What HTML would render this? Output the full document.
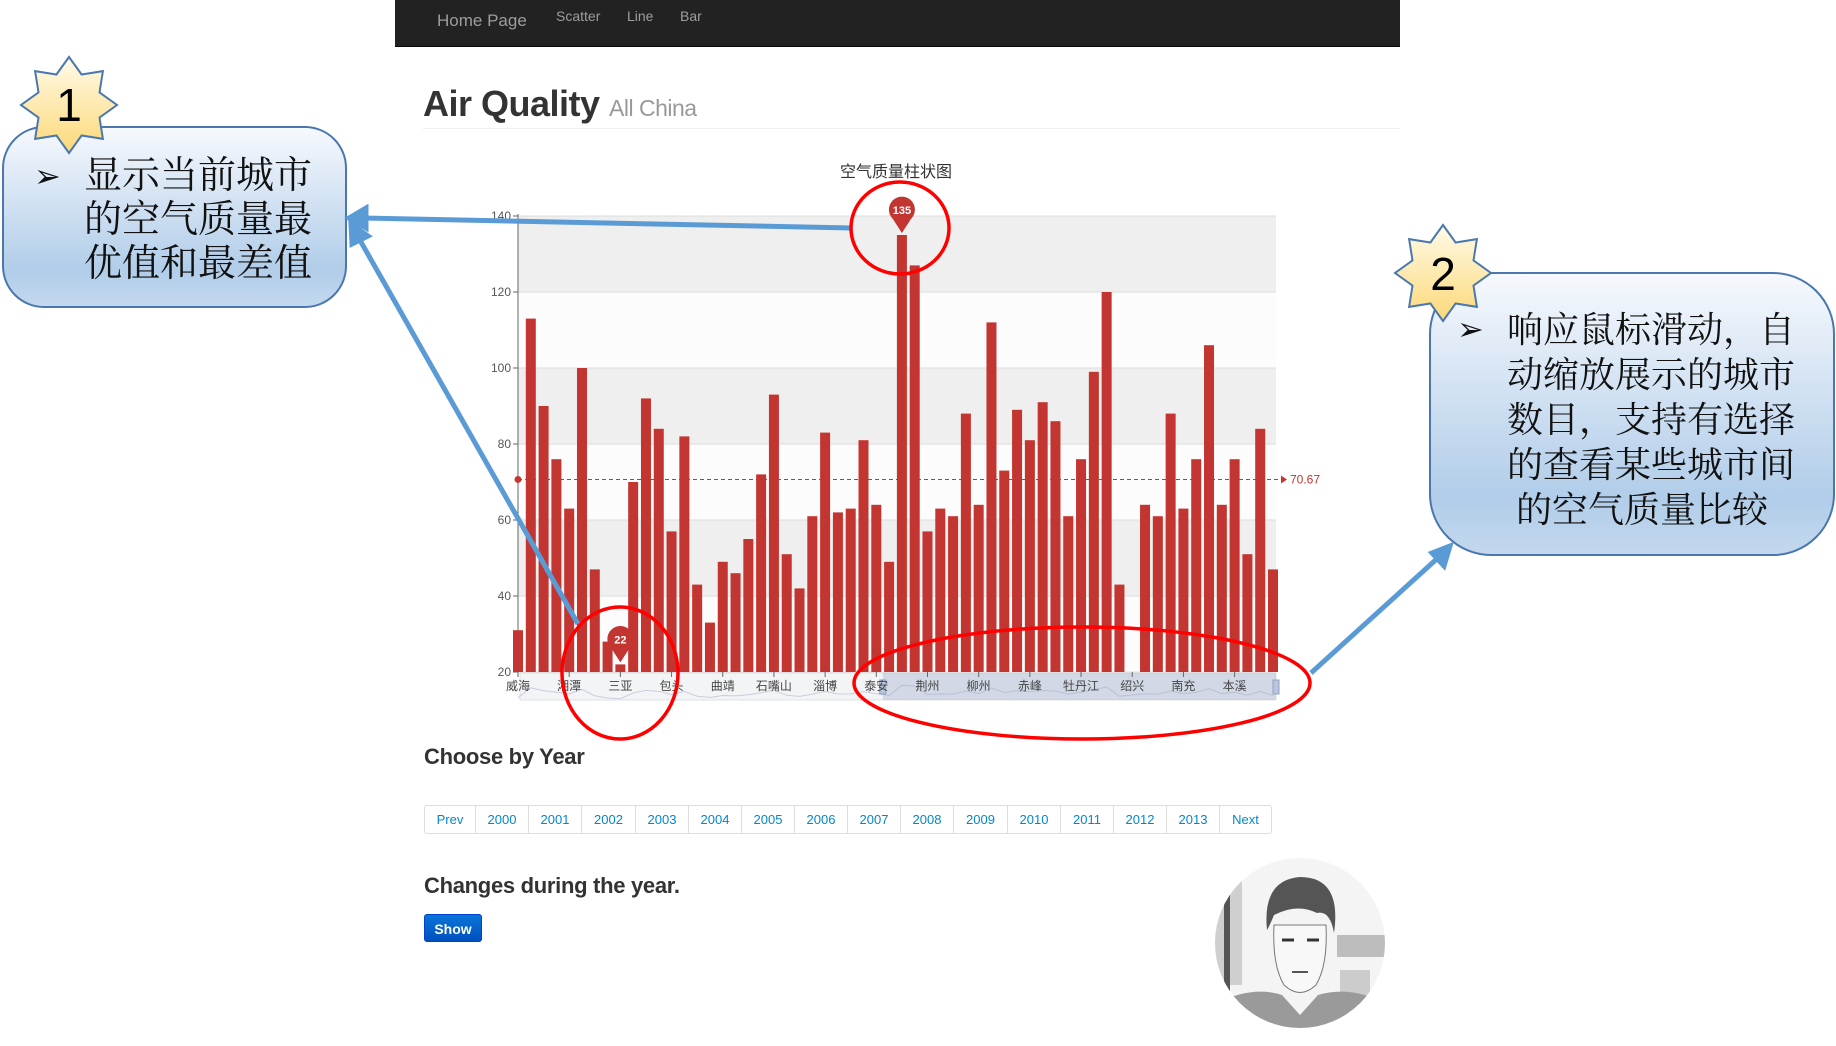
<!DOCTYPE html>
<html><head><meta charset="utf-8">
<style>
html,body{margin:0;padding:0;width:1836px;height:1046px;overflow:hidden;background:#fff;font-family:"Liberation Sans","Noto Sans CJK SC",sans-serif;}
.abs{position:absolute;}
#navbar{left:395px;top:0;width:1005px;height:46px;background:#222;border-bottom:1px solid #080808;}
.nav{position:absolute;color:#9d9d9d;font-size:14px;}
h1{position:absolute;left:423px;top:83px;margin:0;font-size:36px;font-weight:bold;color:#333;letter-spacing:-0.5px;}
h1 small{font-size:23px;font-weight:normal;color:#999;}
.h3{position:absolute;left:424px;font-size:22px;font-weight:bold;color:#333;letter-spacing:-0.3px;}
#pager{left:424px;top:805px;height:27px;border:1px solid #ddd;border-radius:3px;display:flex;}
#pager div{height:27px;line-height:27px;text-align:center;color:#0088cc;font-size:13px;border-right:1px solid #ddd;box-sizing:border-box;}
#show{left:424px;top:914px;width:58px;height:28px;border-radius:3px;background:linear-gradient(#0a74d8,#0050c0);color:#fff;font-size:14px;font-weight:bold;text-align:center;line-height:28px;border:1px solid #04c;box-sizing:border-box;}
.callout{position:absolute;border:2px solid #4a78ae;background:linear-gradient(#f6f9fd 0%,#cfe0f2 45%,#b1cde9 80%,#c3d8ee 100%);box-sizing:border-box;}
.ct{position:absolute;font-family:"Liberation Serif","Noto Serif CJK SC",serif;color:#111;white-space:nowrap;}
</style></head><body>
<div id="navbar" class="abs">
  <span class="nav" style="left:42px;top:11px;font-size:17px;">Home Page</span>
  <span class="nav" style="left:161px;top:8px;">Scatter</span>
  <span class="nav" style="left:232px;top:8px;">Line</span>
  <span class="nav" style="left:285px;top:8px;">Bar</span>
</div>
<h1>Air Quality <small>All China</small></h1>
<div class="abs" style="left:423px;top:128px;width:977px;height:1px;background:#eee;"></div>

<svg class="abs" style="left:0;top:0" width="1836" height="1046" id="chart"></svg>

<div class="h3" style="top:744px;">Choose by Year</div>
<div id="pager" class="abs">
  <div style="width:51px">Prev</div>
  <div style="width:53px">2000</div>
  <div style="width:53px">2001</div>
  <div style="width:54px">2002</div>
  <div style="width:53px">2003</div>
  <div style="width:53px">2004</div>
  <div style="width:53px">2005</div>
  <div style="width:53px">2006</div>
  <div style="width:53px">2007</div>
  <div style="width:53px">2008</div>
  <div style="width:54px">2009</div>
  <div style="width:53px">2010</div>
  <div style="width:53px">2011</div>
  <div style="width:53px">2012</div>
  <div style="width:53px">2013</div>
  <div style="width:51px;border-right:none">Next</div>
</div>
<div class="h3" style="top:873px;">Changes during the year.</div>
<div id="show" class="abs">Show</div>

<svg class="abs" style="left:1212px;top:855px" width="176" height="176">
  <defs><clipPath id="pc"><circle cx="88" cy="88" r="85"/></clipPath></defs>
  <g clip-path="url(#pc)">
    <rect width="176" height="176" fill="#f4f4f4"/>
    <rect x="0" y="20" width="30" height="110" fill="#cfcfcf"/>
    <rect x="12" y="30" width="6" height="110" fill="#555"/>
    <rect x="125" y="80" width="50" height="22" fill="#bdbdbd"/>
    <rect x="128" y="115" width="30" height="30" fill="#ccc"/>
    <path d="M0 150 Q40 130 70 140 L88 160 L106 140 Q140 130 176 150 L176 176 L0 176Z" fill="#9a9a9a"/>
    <path d="M62 70 Q60 110 72 130 Q88 145 104 130 Q116 110 114 70Z" fill="#f8f8f8" stroke="#777"/>
    <path d="M55 75 Q50 25 88 22 Q130 22 122 78 Q118 55 105 58 Q85 48 62 60 Q58 70 55 75Z" fill="#555"/>
    <path d="M70 85 h12 M95 85 h12" stroke="#333" stroke-width="3"/>
    <path d="M80 117 h16" stroke="#555" stroke-width="2"/>
  </g>
</svg>

<div class="callout" style="left:2px;top:126px;width:345px;height:182px;border-radius:42px;">
  <div class="ct" style="left:30px;top:30px;font-size:32px;line-height:36px;">➢</div>
  <div class="ct" style="left:80px;top:26px;font-size:38px;line-height:44px;">显示当前城市<br>的空气质量最<br>优值和最差值</div>
</div>
<div class="callout" style="left:1429px;top:272px;width:406px;height:284px;border-radius:62px;">
  <div class="ct" style="left:26px;top:37px;font-size:32px;line-height:36px;">➢</div>
  <div class="ct" style="left:76px;top:34px;font-size:36px;line-height:45px;">响应鼠标滑动，自<br>动缩放展示的城市<br>数目，支持有选择<br>的查看某些城市间<br>&nbsp;的空气质量比较</div>
</div>

<svg class="abs" style="left:0;top:0;pointer-events:none" width="1836" height="1046" id="overlay">
  <defs>
    <linearGradient id="sg" x1="0" y1="0" x2="0" y2="1"><stop offset="0" stop-color="#fffbe8"/><stop offset="1" stop-color="#fcd877"/></linearGradient>
  </defs>
  <g id="stars"></g>
  <text x="69" y="121" font-size="46" text-anchor="middle" font-family="Liberation Sans,sans-serif" fill="#000">1</text>
  <text x="1443" y="290" font-size="46" text-anchor="middle" font-family="Liberation Sans,sans-serif" fill="#000">2</text>
  <g stroke="#5b9bd5" stroke-width="5" fill="#5b9bd5">
    <line x1="852" y1="228" x2="362" y2="218"/>
    <polygon points="349,218 366,208 366,228"/>
    <line x1="578" y1="624" x2="357" y2="235"/>
    <polygon points="351,224 352,244 368,236"/>
    <line x1="1311" y1="673" x2="1440" y2="556"/>
    <polygon points="1450,546 1432,553 1444,566"/>
  </g>
  <g fill="none" stroke="#f00" stroke-width="3.5">
    <ellipse cx="900" cy="228" rx="49" ry="46"/>
    <ellipse cx="620" cy="673" rx="58" ry="66"/>
    <ellipse cx="1082" cy="683" rx="228" ry="56"/>
  </g>
</svg>

<script>
const categories = ["威海","烟台","青岛","日照","湘潭","株洲","长沙","岳阳","三亚","海口","湛江","北海","包头","呼和浩特","鄂尔多斯","大同","曲靖","昆明","玉溪","大理","石嘴山","银川","吴忠","兰州","淄博","济南","潍坊","临沂","泰安","聊城","德州","武汉","荆州","宜昌","襄阳","南宁","柳州","桂林","贵阳","遵义","赤峰","通辽","哈尔滨","齐齐哈尔","牡丹江","大庆","杭州","宁波","绍兴","金华","成都","绵阳","南充","宜宾","沈阳","大连","本溪","鞍山","抚顺","丹东"];
const values = [31,113,90,76,63,100,47,28,22,70,92,84,57,82,43,33,49,46,55,72,93,51,42,61,83,62,63,81,64,49,135,127,57,63,61,88,64,112,73,89,81,91,86,61,76,99,120,43,null,64,61,88,63,76,106,64,76,51,84,47];
const yTicks = [20,40,60,80,100,120,140];
const averageValue = 70.67;
const labelEvery = 4;
const zoomStartIndex = 28.5;

const NS="http://www.w3.org/2000/svg";
const svg=document.getElementById('chart');
const X0=518, X1=1273, YB=672, YT=216, VMIN=20, VMAX=140;
function xPos(i){return X0+i*(X1-X0)/(categories.length-1);}
function yPos(v){return YB-(v-VMIN)*(YB-YT)/(VMAX-VMIN);}
function mk(tag,attrs,parent){const e=document.createElementNS(NS,tag);for(const k in attrs)e.setAttribute(k,attrs[k]);(parent||svg).appendChild(e);return e;}

let t=mk('text',{x:896,y:177,'font-size':16,'text-anchor':'middle',fill:'#333','font-family':'Liberation Sans, Noto Sans CJK SC, sans-serif'});
t.textContent='空气质量柱状图';



for(let k=0;k<yTicks.length-1;k++){
  const r=mk('rect',{x:X0,y:yPos(yTicks[k+1]),width:X1-X0+3,height:yPos(yTicks[k])-yPos(yTicks[k+1]),fill:(k%2===0)?'#fcfcfc':'#efefef'});
  
  
}
yTicks.forEach(v=>{
  const l=mk('line',{x1:X0-5,x2:X1+3,y1:yPos(v),y2:yPos(v),stroke:'#ddd','stroke-width':1});
  
  
  const tk=mk('line',{x1:X0-5,x2:X0,y1:yPos(v),y2:yPos(v),stroke:'#666'});
  
  
  const tl=mk('text',{x:X0-7,y:yPos(v)+4,'font-size':12,'text-anchor':'end',fill:'#555','font-family':'Liberation Sans, sans-serif'});
  tl.textContent=v;
  
  
});
const ax=mk('line',{x1:X0,x2:X0,y1:YT-2,y2:YB,stroke:'#666'});



const dz=mk('rect',{x:X0+2,y:YB+1,width:X1-X0+1,height:27,fill:'#f3f4f6',stroke:'#dde1e8'});


let pts=values.map((v,i)=>v==null?null:`${xPos(i)},${YB+27-(v-VMIN)*0.12}`).filter(p=>p).join(' ');
const sh=mk('polyline',{points:pts,fill:'none',stroke:'#ccd','stroke-width':1});


const zs=xPos(zoomStartIndex);
const sel=mk('rect',{x:zs,y:YB+1,width:X1+3-zs,height:27,fill:'rgba(160,176,205,0.4)'});


[zs,X1+3].forEach(hx=>{
  const h=mk('rect',{x:hx-3,y:YB+8,width:6,height:14,fill:'#b8c5dc',stroke:'#8fa1c4'});
  
  
});

values.forEach((v,i)=>{
  if(v==null)return;
  const b=mk('rect',{x:xPos(i)-5,y:yPos(v),width:10,height:Math.max(0,YB-yPos(v)),fill:'#c23531'});
  
  
});

categories.forEach((c,i)=>{
  if(i%labelEvery!==0)return;
  const tk=mk('line',{x1:xPos(i),x2:xPos(i),y1:YB,y2:YB+5,stroke:'#666'});
  
  
  const tl=mk('text',{x:xPos(i),y:YB+18,'font-size':12,'text-anchor':'middle',fill:'#444','font-family':'Liberation Sans, Noto Sans CJK SC, sans-serif'});
  tl.textContent=c;
  
  
});

const ay=yPos(averageValue);
const al=mk('line',{x1:X0,x2:X1+8,y1:ay,y2:ay,stroke:'#c23531','stroke-dasharray':'4,3','stroke-width':1});


const ad=mk('circle',{cx:X0,cy:ay,r:3.5,fill:'#c23531'});


const aa=mk('polygon',{points:`${X1+8},${ay-4} ${X1+14},${ay} ${X1+8},${ay+4}`,fill:'#c23531'});


const at=mk('text',{x:X1+17,y:ay+4,'font-size':12,fill:'#c23531','font-family':'Liberation Sans, sans-serif'});
at.textContent=averageValue.toFixed(2);



function pin(i,name){
  const cx=xPos(i), ty=yPos(values[i]), cy=ty-25;
  const p=mk('path',{d:`M${cx} ${ty-2} L${cx-9} ${cy+9} A13 13 0 1 1 ${cx+9} ${cy+9} Z`,fill:'#c23531'});
  
  
  const pt=mk('text',{x:cx,y:cy+4,'font-size':11,'font-weight':'bold','text-anchor':'middle',fill:'#fff','font-family':'Liberation Sans, sans-serif'});
  pt.textContent=values[i];
  
  
}
const valid=values.filter(v=>v!=null);
const maxI=values.indexOf(Math.max(...valid));
const minI=values.indexOf(Math.min(...valid));
pin(maxI,'max-value');
pin(minI,'min-value');

const stars=document.getElementById('stars');
function star(cx,cy,R,r,name){
  let p=[];
  for(let k=0;k<16;k++){const a=Math.PI*k/8-Math.PI/2;const rr=k%2?r:R;p.push((cx+rr*Math.cos(a)).toFixed(1)+','+(cy+rr*Math.sin(a)).toFixed(1));}
  const s=document.createElementNS(NS,'polygon');
  s.setAttribute('points',p.join(' '));
  s.setAttribute('fill','url(#sg)');
  s.setAttribute('stroke','#4a78ae');
  s.setAttribute('stroke-width','2');
  
  
  stars.appendChild(s);
}
star(69,105,48,33,'badge-1-star');
star(1443,273,48,33,'badge-2-star');
</script>
</body></html>
